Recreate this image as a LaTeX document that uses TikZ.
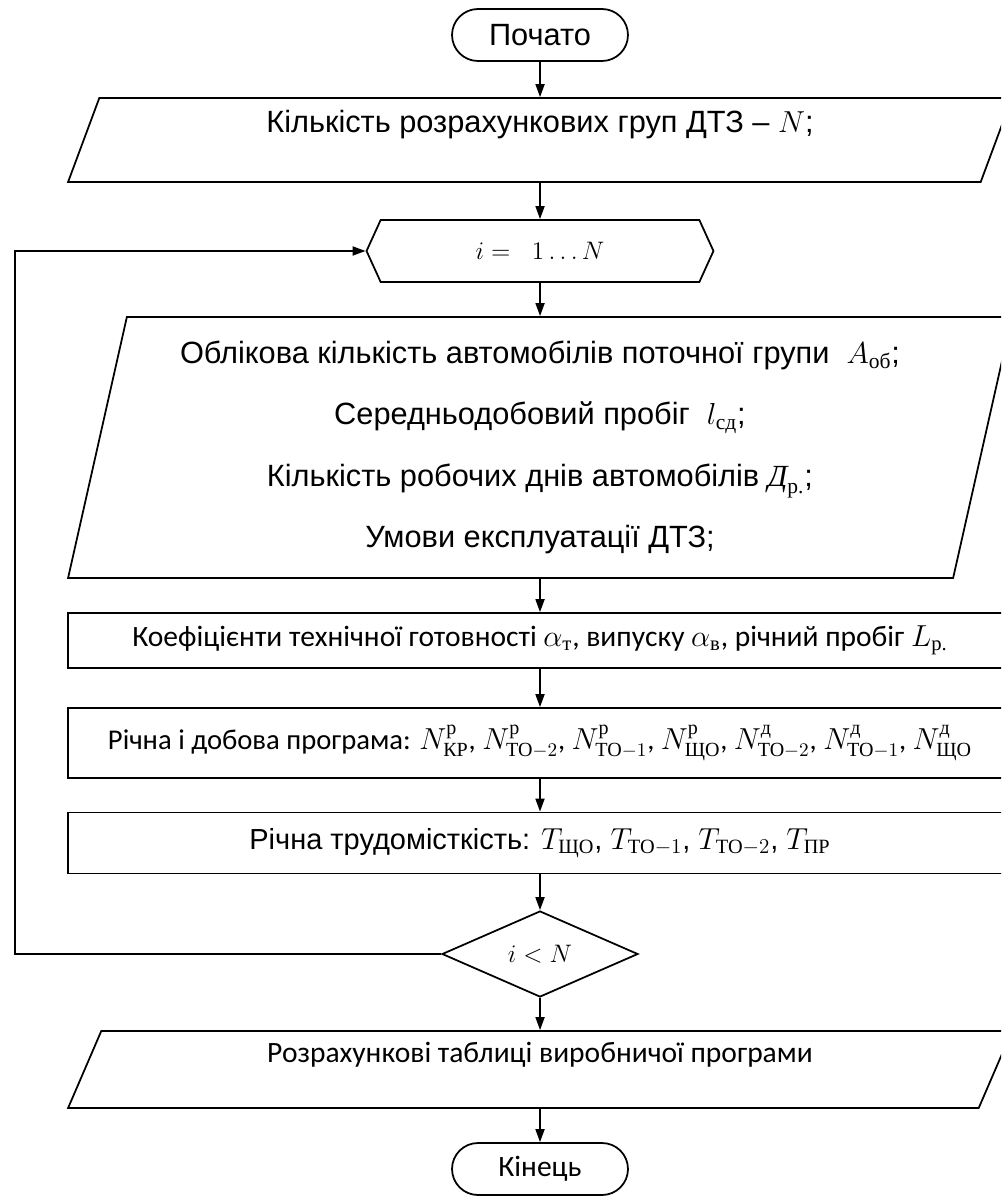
\documentclass[tikz,border=0pt]{standalone}
\usepackage{amsmath}
\usepackage{fontspec}
\setmainfont{Liberation Sans}
\newfontfamily\calibfont{Carlito}
\newfontfamily\cyrserif{Liberation Serif}
\newcommand{\cy}[1]{\text{\cyrserif\upshape #1}}
\usetikzlibrary{shapes.geometric,shapes.misc,shapes.symbols,arrows.meta}

\begin{document}
\begin{tikzpicture}[x=0.02cm,y=-0.02cm,line width=1pt,
    arr/.style={-{Triangle[length=2.6mm,width=1.8mm]}},
    term/.style={draw,rounded rectangle,minimum width=3.52cm,minimum height=1.04cm},
    iobox/.style={draw,trapezium,trapezium stretches body,minimum width=18.88cm,align=center},
    procbox/.style={draw,rectangle,minimum width=18.88cm,align=center},
    arial/.style={font=\fontsize{17.5}{21}\selectfont},
    calib/.style={font=\calibfont\fontsize{16.8}{20}\selectfont},
    mathtxt/.style={font=\fontsize{15}{18}\selectfont}]
    \tikzstyle{every node}+=[inner sep=0pt]
    \useasboundingbox (0,0) rectangle (1001,1196);
    \clip (0,0) rectangle (1001,1196);
    \node [term,arial] (start) at (540,35) {Почато};
    \node [iobox,arial,minimum height=1.68cm,trapezium left angle=62.4,trapezium right angle=117.6] (in1) at (540,140)
        {Кількість розрахункових груп ДТЗ -- $N$;\\[-6pt] \strut};
    \node [draw,signal,signal to=west and east,signal pointer angle=131,minimum width=6.94cm,minimum height=1.24cm,mathtxt] (loop) at (540,251)
        {$i =\ \ 1\ldots N$};
    \node [iobox,arial,minimum height=5.22cm,trapezium left angle=74.6,trapezium right angle=105.4] (in2) at (540,447.5)
        {Облікова кількість автомобілів поточної групи \ $A_{\cy{об}}$;\\[14pt]
         Середньодобовий пробіг \ $l_{\cy{сд}}$;\\[14pt]
         Кількість робочих днів автомобілів $\text{\cyrserif\itshape Д}_{\cy{р.}}$;\\[14pt]
         Умови експлуатації ДТЗ;};
    \node [procbox,calib,minimum height=1.1cm] (coef) at (540,640.5)
        {Коефіцієнти технічної готовності $\alpha_{\cy{т}}$, випуску $\alpha_{\cy{в}}$, річний пробіг $L_{\cy{р.}}$};
    \node [procbox,font=\calibfont\fontsize{16.3}{20}\selectfont,minimum height=1.4cm] (prog) at (540,743)
        {Річна і добова програма: $N^{\cy{р}}_{\cy{КР}}$, $N^{\cy{р}}_{\cy{ТО}-2}$, $N^{\cy{р}}_{\cy{ТО}-1}$, $N^{\cy{р}}_{\cy{ЩО}}$, $N^{\cy{д}}_{\cy{ТО}-2}$, $N^{\cy{д}}_{\cy{ТО}-1}$, $N^{\cy{д}}_{\cy{ЩО}}$};
    \node [procbox,font=\fontsize{16.5}{20}\selectfont,minimum height=1.22cm] (labour) at (540,843)
        {Річна трудомісткість: $T_{\cy{ЩО}}$, $T_{\cy{ТО}-1}$, $T_{\cy{ТО}-2}$, $T_{\cy{ПР}}$};
    \node [draw,diamond,aspect=2.28,minimum width=3.92cm,minimum height=1.72cm,mathtxt] (cond) at (540,954) {$i < N$};
    \node [iobox,calib,minimum height=1.54cm,trapezium left angle=59.1,trapezium right angle=120.9] (out) at (540,1069.5)
        {Розрахункові таблиці виробничої програми\\[-6pt] \strut};
    \node [term,calib] (finish) at (540,1169) {Кінець};
    \coordinate (back) at (15,954);
    \draw [arr] (start) -- (in1);
    \draw [arr] (in1) -- (loop);
    \draw [arr] (loop) -- (in2);
    \draw [arr] (in2) -- (coef);
    \draw [arr] (coef) -- (prog);
    \draw [arr] (prog) -- (labour);
    \draw [arr] (labour) -- (cond);
    \draw [arr] (cond) -- (out);
    \draw [arr] (out) -- (finish);
    \draw [arr] (cond.west) -- (back) |- (loop.west);
\end{tikzpicture}
\end{document}
